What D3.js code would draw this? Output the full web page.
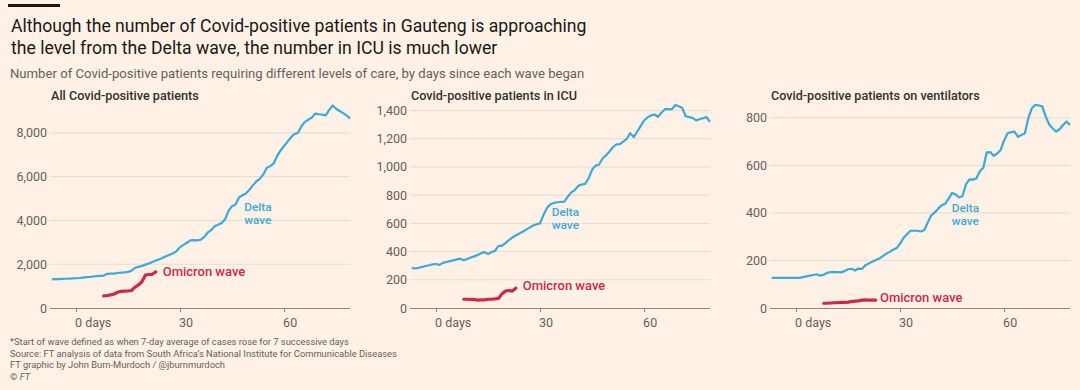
<!DOCTYPE html>
<html>
<head>
<meta charset="utf-8">
<script src="https://cdn.jsdelivr.net/npm/d3@7"></script>
<style>
  html, body { margin: 0; padding: 0; background: #fff1e5; }
  svg { display: block; }
</style>
</head>
<body>
<svg id="chart" width="1080" height="390"></svg>
<script>
// ---------------- DATA ----------------
const titleLines = [
  "Although the number of Covid-positive patients in Gauteng is approaching",
  "the level from the Delta wave, the number in ICU is much lower"
];
const subtitle = "Number of Covid-positive patients requiring different levels of care, by days since each wave began";
const footerLines = [
  "*Start of wave defined as when 7-day average of cases rose for 7 successive days",
  "Source: FT analysis of data from South Africa\u2019s National Institute for Communicable Diseases",
  "FT graphic by John Burn-Murdoch / @jburnmurdoch"
];
const panelTitles = ["All Covid-positive patients", "Covid-positive patients in ICU", "Covid-positive patients on ventilators"];
const seriesNames = ["Delta", "Omicron wave"];

const deltaDays = [-7,-6,-5,-4,-3,-2,-1,0,1,2,3,4,5,6,7,8,9,10,11,12,13,14,15,16,17,18,19,20,21,22,23,24,25,26,27,28,29,30,
  31,32,33,34,35,36,37,38,39,40,41,42,43,44,45,46,47,48,49,50,51,52,53,54,55,56,57,58,59,60,61,62,63,64,65,66,67,68,69,70,
  71,72,73,74,75,76,77,78,79];
const omicronDays = [8,9,10,11,12,13,14,15,16,17,18,19,20,21,22,23];

const deltaAll = [1310,1315,1320,1330,1335,1340,1350,1360,1370,1390,1410,1420,1440,1460,1470,1480,1560,1570,1570,1600,1620,1630,1650,1700,
  1840,1880,1920,1980,2030,2100,2170,2230,2290,2360,2430,2500,2600,2780,2880,2980,3090,3100,3090,3120,3250,3450,3560,3740,3800,3880,
  4050,4450,4650,4730,5050,5150,5230,5400,5600,5780,5900,6100,6400,6480,6600,6950,7200,7400,7600,7800,7950,8000,8300,8500,8600,8700,
  8880,8850,8830,8800,9050,9250,9100,9000,8900,8800,8650];
const omicronAll = [550,570,600,640,720,760,770,780,800,950,1050,1200,1500,1530,1540,1650];

const deltaICU = [285,280,285,292,298,303,310,312,306,320,326,332,338,345,350,338,348,358,366,376,388,396,382,396,405,440,440,460,482,500,
  514,528,540,556,570,585,594,600,660,710,735,745,750,752,754,790,820,836,866,876,880,920,980,1010,1016,1060,1082,1110,1140,1160,1162,
  1180,1200,1240,1212,1250,1290,1330,1352,1366,1372,1356,1385,1410,1410,1408,1440,1430,1418,1360,1354,1348,1330,1338,1346,1354,1320];
const omicronICU = [62,62,61,60,56,57,58,62,63,65,68,100,120,124,120,140];

const deltaVent = [127,127,127,127,127,127,127,127,127,130,133,136,139,142,136,140,148,151,152,151,150,155,163,165,158,166,164,180,187,195,
  202,208,218,228,236,245,252,270,295,310,325,325,325,322,328,360,390,402,418,432,438,460,484,478,465,470,520,541,540,545,575,590,655,
  656,640,650,665,705,735,740,742,720,728,735,800,840,855,852,848,805,772,755,742,752,770,785,770];
const omicronVent = [20,20,21,22,23,24,24,25,27,29,30,33,34,33,33,33];

const yTicksAll = [0, 2000, 4000, 6000, 8000];
const yTicksICU = [0, 200, 400, 600, 800, 1000, 1200, 1400];
const yTicksVent = [0, 200, 400, 600, 800];
const xTicks = [0, 30, 60];
const xTickLabels = ["0 days", "30", "60"];

// ---------------- LAYOUT / STYLE ----------------
const FONT = "Roboto, 'Noto Sans', sans-serif";
const C = { bg: "#fff1e5", title: "#1a1817", sub: "#66605c", panel: "#33302e", axis: "#66605c",
  grid: "#e9dbcf", base: "#8c847e", delta: "#3ca9dd", omicron: "#cc2a48" };

const panels = [
  { title: panelTitles[0], delta: deltaAll, omicron: omicronAll, ticks: yTicksAll, yMax: 9500,
    deltaLabel: [48.5, 4430], omicronLabel: [25, 1450], titleW: 148 },
  { title: panelTitles[1], delta: deltaICU, omicron: omicronICU, ticks: yTicksICU, yMax: 1475,
    deltaLabel: [33.4, 650], omicronLabel: [25, 126], titleW: 166 },
  { title: panelTitles[2], delta: deltaVent, omicron: omicronVent, ticks: yTicksVent, yMax: 875,
    deltaLabel: [44.9, 403], omicronLabel: [24.2, 24], titleW: 209 }
];
const panelLeft = [50, 410, 770];
const plotW = 300, plotTop = 100, plotBottom = 308;
const xDomain = [-7.5, 79];

const svg = d3.select("#chart");
svg.append("rect").attr("width", 1080).attr("height", 390).attr("fill", C.bg);

function fitWidth(sel, target) {
  const w = sel.node().getComputedTextLength();
  const fs = parseFloat(sel.attr("font-size"));
  if (w > 0) sel.attr("font-size", (fs * target / w).toFixed(2));
  return sel;
}

// Top bar
svg.append("rect").attr("x", 8).attr("y", 4).attr("width", 52).attr("height", 3).attr("fill", "#1a1817");

// Title
const titleBaselines = [31.7, 54.3];
const titleSel = titleLines.map((t, i) => svg.append("text").attr("x", 11).attr("y", titleBaselines[i])
  .attr("font-family", FONT).attr("font-size", 18).attr("fill", C.title).text(t));
fitWidth(titleSel[0], 576);
titleSel[1].attr("font-size", titleSel[0].attr("font-size"));

fitWidth(svg.append("text").attr("x", 10).attr("y", 77.5)
  .attr("font-family", FONT).attr("font-size", 13).attr("fill", C.sub).text(subtitle), 575);

// Panels
const line = (x, y) => d3.line().x(d => x(d[0])).y(d => y(d[1])).curve(d3.curveLinear);

panels.forEach((p, i) => {
  const x0 = panelLeft[i];
  const x = d3.scaleLinear().domain(xDomain).range([x0, x0 + plotW]);
  const y = d3.scaleLinear().domain([0, p.yMax]).range([plotBottom, plotTop]);
  const g = svg.append("g");

  // panel title
  fitWidth(g.append("text").attr("x", x0 + 1).attr("y", 100)
    .attr("font-family", FONT).attr("font-size", 12).attr("font-weight", 500)
    .attr("fill", C.panel).text(p.title), p.titleW);

  // gridlines
  g.append("g").selectAll("line").data(p.ticks.filter(t => t !== 0)).join("line")
    .attr("x1", x0).attr("x2", x0 + plotW)
    .attr("y1", d => y(d)).attr("y2", d => y(d))
    .attr("stroke", C.grid).attr("stroke-width", 1);

  // y axis labels
  const yAxis = d3.axisLeft(y).tickValues(p.ticks).tickSize(0).tickPadding(3)
    .tickFormat(d3.format(","));
  const ya = g.append("g").attr("transform", `translate(${x0},0)`).call(yAxis);
  ya.select(".domain").remove();
  ya.selectAll("text").attr("font-family", FONT).attr("font-size", 12.5).attr("fill", C.axis);

  // x axis
  const xAxis = d3.axisBottom(x).tickValues(xTicks).tickSize(4).tickFormat((d, k) => xTickLabels[k]);
  const xa = g.append("g").attr("transform", `translate(0,${plotBottom})`).call(xAxis);
  xa.select(".domain").attr("stroke", C.base).attr("d", `M${x0},0.5H${x0 + plotW}`);
  xa.selectAll(".tick line").attr("stroke", C.base);
  xa.selectAll("text").attr("font-family", FONT).attr("font-size", 12.5).attr("fill", C.axis)
    .attr("text-anchor", "start").attr("dx", -1.5).attr("dy", "0.95em");

  // lines
  const dData = deltaDays.map((d, k) => [d, p.delta[k]]);
  const oData = omicronDays.map((d, k) => [d, p.omicron[k]]);
  g.append("path").datum(dData).attr("d", line(x, y)).attr("fill", "none")
    .attr("stroke", C.delta).attr("stroke-width", 2.2).attr("stroke-linejoin", "round");
  g.append("path").datum(oData).attr("d", line(x, y)).attr("fill", "none")
    .attr("stroke", C.omicron).attr("stroke-width", 3.2).attr("stroke-linejoin", "round").attr("stroke-linecap", "round");

  // labels
  const lx = x(p.deltaLabel[0]), ly = y(p.deltaLabel[1]);
  g.append("text").attr("x", lx).attr("y", ly)
    .attr("font-family", FONT).attr("font-size", 11.8).attr("font-weight", 500).attr("fill", C.delta)
    .text(seriesNames[0]);
  g.append("text").attr("x", lx).attr("y", ly + 13)
    .attr("font-family", FONT).attr("font-size", 11.8).attr("font-weight", 500).attr("fill", C.delta)
    .text("wave");
  g.append("text").attr("x", x(p.omicronLabel[0])).attr("y", y(p.omicronLabel[1]))
    .attr("font-family", FONT).attr("font-size", 13).attr("font-weight", 500).attr("fill", C.omicron)
    .text(seriesNames[1]);
});

// Footer
const footBase = [345, 356.7, 368.4];
const fsel = footerLines.map((t, i) => svg.append("text").attr("x", 10).attr("y", footBase[i])
  .attr("font-family", FONT).attr("font-size", 10).attr("fill", C.sub).text(t));
fitWidth(fsel[1], 387);
const fsz = fsel[1].attr("font-size");
fsel.forEach(s => s.attr("font-size", fsz));
const cp = svg.append("text").attr("x", 10).attr("y", 380.1)
  .attr("font-family", FONT).attr("font-size", fsz).attr("fill", C.sub);
cp.append("tspan").text("\u00a9 ");
cp.append("tspan").attr("font-style", "italic").text("FT");
</script>
</body>
</html>
